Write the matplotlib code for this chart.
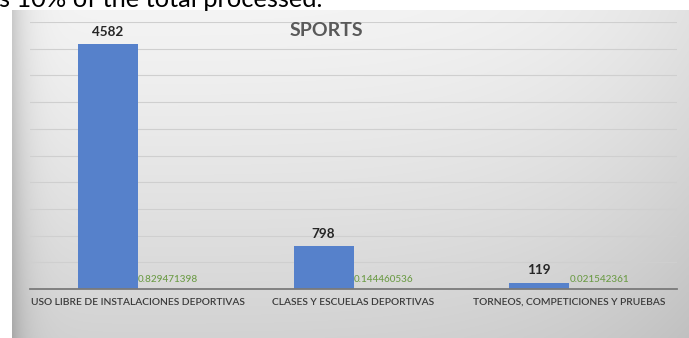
import numpy as np
import matplotlib
matplotlib.use("Agg")
import matplotlib.pyplot as plt

# ── Data ─────────────────────────────────────────────────────────────────────
categories = ["USO LIBRE DE INSTALACIONES DEPORTIVAS",
              "CLASES Y ESCUELAS DEPORTIVAS",
              "TORNEOS, COMPETICIONES Y PRUEBAS"]
counts = [4582, 798, 119]
shares = [0.829471398, 0.144460536, 0.021542361]
share_labels = ["0.829471398", "0.144460536", "0.021542361"]

BAR, GREEN, TEXT, TITLE = "#5681CB", "#6B9B45", "#3a3a3a", "#595959"
W, H = 689, 338

plt.rcParams["font.family"] = ["Lato", "DejaVu Sans"]
fig = plt.figure(figsize=(W / 100, H / 100), dpi=100, facecolor="white")

# ── Chart area background (soft grey gradient) ───────────────────────────────
bg = fig.add_axes([12 / W, 0, 1 - 12 / W, 1 - 10 / H])
bg.set_axis_off()
xs = np.linspace(0, 1, 400)
ys = np.linspace(0, 1, 200)
X, Y = np.meshgrid(xs, ys)
shade = 0.955 - 0.13 * Y ** 1.2
shade -= 0.16 * np.exp(-X * 677 / 14)
shade -= 0.07 * X ** 5
shade = np.clip(shade, 0, 1)
bg.imshow(np.dstack([shade] * 3), aspect="auto", extent=[0, 1, 1, 0],
          interpolation="bilinear")
bg.set_xlim(0, 1)
bg.set_ylim(1, 0)

# ── Bars ─────────────────────────────────────────────────────────────────────
ax = fig.add_axes([30 / W, (H - 289) / H, 647 / W, 267 / H])
ax.patch.set_alpha(0)
x = np.arange(len(categories))
bw = 0.278
b1 = ax.bar(x - bw / 2, counts, bw, color=BAR, zorder=3)
b2 = ax.bar(x + bw / 2, shares, bw, color="#ED7D31", zorder=3)

ax.set_xlim(-0.5, len(categories) - 0.5)
ax.set_ylim(0, 5000)
ax.set_yticks(np.arange(0, 5001, 500))
ax.yaxis.grid(True, color="#cfcfcf", lw=0.8, zorder=0)
ax.tick_params(axis="y", left=False, labelleft=False)
ax.set_xticks(x)
ax.set_xticklabels(categories, fontsize=7.4, color=TEXT, fontweight="semibold")
ax.tick_params(axis="x", length=0, pad=6.5)
for side in ["top", "right", "left"]:
    ax.spines[side].set_visible(False)
ax.spines["bottom"].set_color("#7a7a7a")
ax.spines["bottom"].set_linewidth(1.3)
ax.spines["bottom"].set_zorder(4)

for bar, val in zip(b1, counts):
    ax.annotate(f"{val}", (bar.get_x() + bar.get_width() / 2, val),
                xytext=(0, 8.8), textcoords="offset points",
                ha="center", va="center", fontsize=9.7, fontweight="bold",
                color="#262626")
for bar, val, lab in zip(b2, shares, share_labels):
    ax.annotate(lab, (bar.get_x() + bar.get_width() / 2, val),
                xytext=(0, 6.6), textcoords="offset points",
                ha="center", va="center", fontsize=7.1, color=GREEN,
                fontweight="medium")

fig.text(326 / W, 1 - 31 / H, "SPORTS", ha="center", va="center",
         fontsize=14, fontweight="bold", color=TITLE)

# line of body text running above the chart
fig.text(322 / W, 1 - 7 / H, "is 10% of the total processed.", ha="right",
         va="baseline", fontsize=18.3, color="black")

fig.savefig("out.png", dpi=100, facecolor="white")
